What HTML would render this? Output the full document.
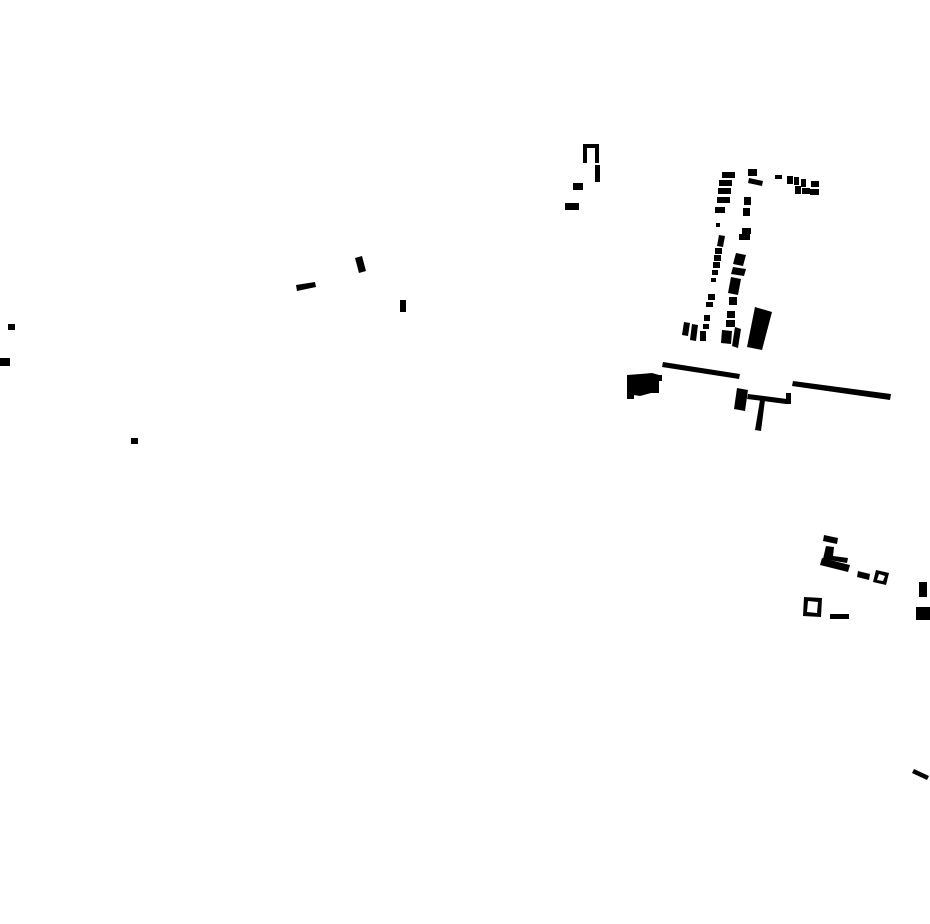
<!DOCTYPE html>
<html><head><style>html,body{margin:0;padding:0;background:#fff;}svg{display:block}</style></head>
<body>
<svg width="930" height="924" viewBox="0 0 930 924" xmlns="http://www.w3.org/2000/svg">
<g fill="#000">
<path d="M583,144H599V163H595V148H587V163H583Z"/>
<rect x="595" y="165" width="5" height="17"/>
<rect x="573" y="183" width="10" height="7"/>
<rect x="565" y="203" width="14" height="7"/>
<polygon points="627,375 641,374 652,373 659,375 659,393 651,393 640,396 634,395 634,399 627,399"/>
<rect x="654" y="375" width="8" height="6"/>
<polygon points="296,285 315,282 316,287 297,291"/>
<polygon points="355,258 362,256 366,271 359,273"/>
<rect x="400" y="300" width="6" height="12"/>
<rect x="8" y="324" width="7" height="6"/>
<rect x="0" y="358" width="10" height="8"/>
<rect x="131" y="438" width="7" height="6"/>
<rect x="722" y="172" width="13" height="6"/>
<rect x="719" y="180" width="13" height="6"/>
<rect x="718" y="188" width="13" height="6"/>
<rect x="717" y="197" width="13" height="6"/>
<rect x="715" y="207" width="10" height="6"/>
<rect x="716" y="223" width="4" height="4"/>
<polygon points="719,235 725,236 723,247 717,246"/>
<rect x="715" y="248" width="7" height="6"/>
<rect x="714" y="255" width="7" height="6"/>
<rect x="713" y="262" width="7" height="6"/>
<rect x="712" y="270" width="6" height="5"/>
<rect x="711" y="278" width="5" height="4"/>
<rect x="708" y="294" width="7" height="6"/>
<rect x="706" y="302" width="7" height="5"/>
<rect x="704" y="315" width="6" height="6"/>
<rect x="703" y="324" width="6" height="5"/>
<rect x="700" y="331" width="6" height="10"/>
<polygon points="684,322 690,323 688,336 682,335"/>
<polygon points="692,324 698,325 696,341 690,340"/>
<rect x="748" y="169" width="9" height="7"/>
<polygon points="749,178 763,181 762,186 748,183"/>
<rect x="744" y="197" width="7" height="8"/>
<rect x="743" y="208" width="7" height="8"/>
<rect x="742" y="228" width="9" height="6"/>
<rect x="739" y="234" width="11" height="6"/>
<polygon points="736,253 746,255 743,266 733,264"/>
<polygon points="733,267 746,269 744,276 731,274"/>
<polygon points="731,277 741,279 738,295 728,293"/>
<rect x="729" y="297" width="8" height="8"/>
<rect x="727" y="311" width="8" height="7"/>
<rect x="726" y="320" width="9" height="7"/>
<polygon points="722,330 732,331 731,344 721,343"/>
<polygon points="735,327 741,329 738,348 732,346"/>
<polygon points="755,307 772,312 762,350 747,347"/>
<rect x="775" y="175" width="7" height="4"/>
<rect x="787" y="176" width="6" height="8"/>
<rect x="794" y="177" width="5" height="8"/>
<rect x="801" y="179" width="5" height="8"/>
<rect x="811" y="181" width="8" height="6"/>
<rect x="795" y="186" width="6" height="8"/>
<rect x="802" y="188" width="8" height="6"/>
<rect x="810" y="189" width="9" height="6"/>
<polygon points="663,362 740,374 739,379 662,367"/>
<polygon points="793,381 891,394 890,400 792,386"/>
<polygon points="737,388 748,390 745,411 734,409"/>
<polygon points="748,394 787,399 786,404 747,399"/>
<rect x="786" y="393" width="5" height="11"/>
<polygon points="760,400 765,400 761,431 755,430"/>
<polygon points="824,535 838,538 837,544 823,541"/>
<polygon points="826,546 834,547 833,556 848,558 847,563 823,559"/>
<polygon points="822,558 850,565 848,572 820,565"/>
<polygon points="858,571 870,574 869,580 857,577"/>
<path d="M876,570L889,573L886,585L873,582Z M879,574L877,580L883,581L885,576Z" fill-rule="evenodd"/>
<rect x="919" y="582" width="8" height="15"/>
<rect x="916" y="607" width="14" height="13"/>
<path d="M804,597L822,598L821,617L803,616Z M808,601L807,612L817,613L818,602Z" fill-rule="evenodd"/>
<rect x="830" y="614" width="19" height="5"/>
<polygon points="914,769 929,776 927,780 912,773"/>
</g>
</svg>
</body></html>
